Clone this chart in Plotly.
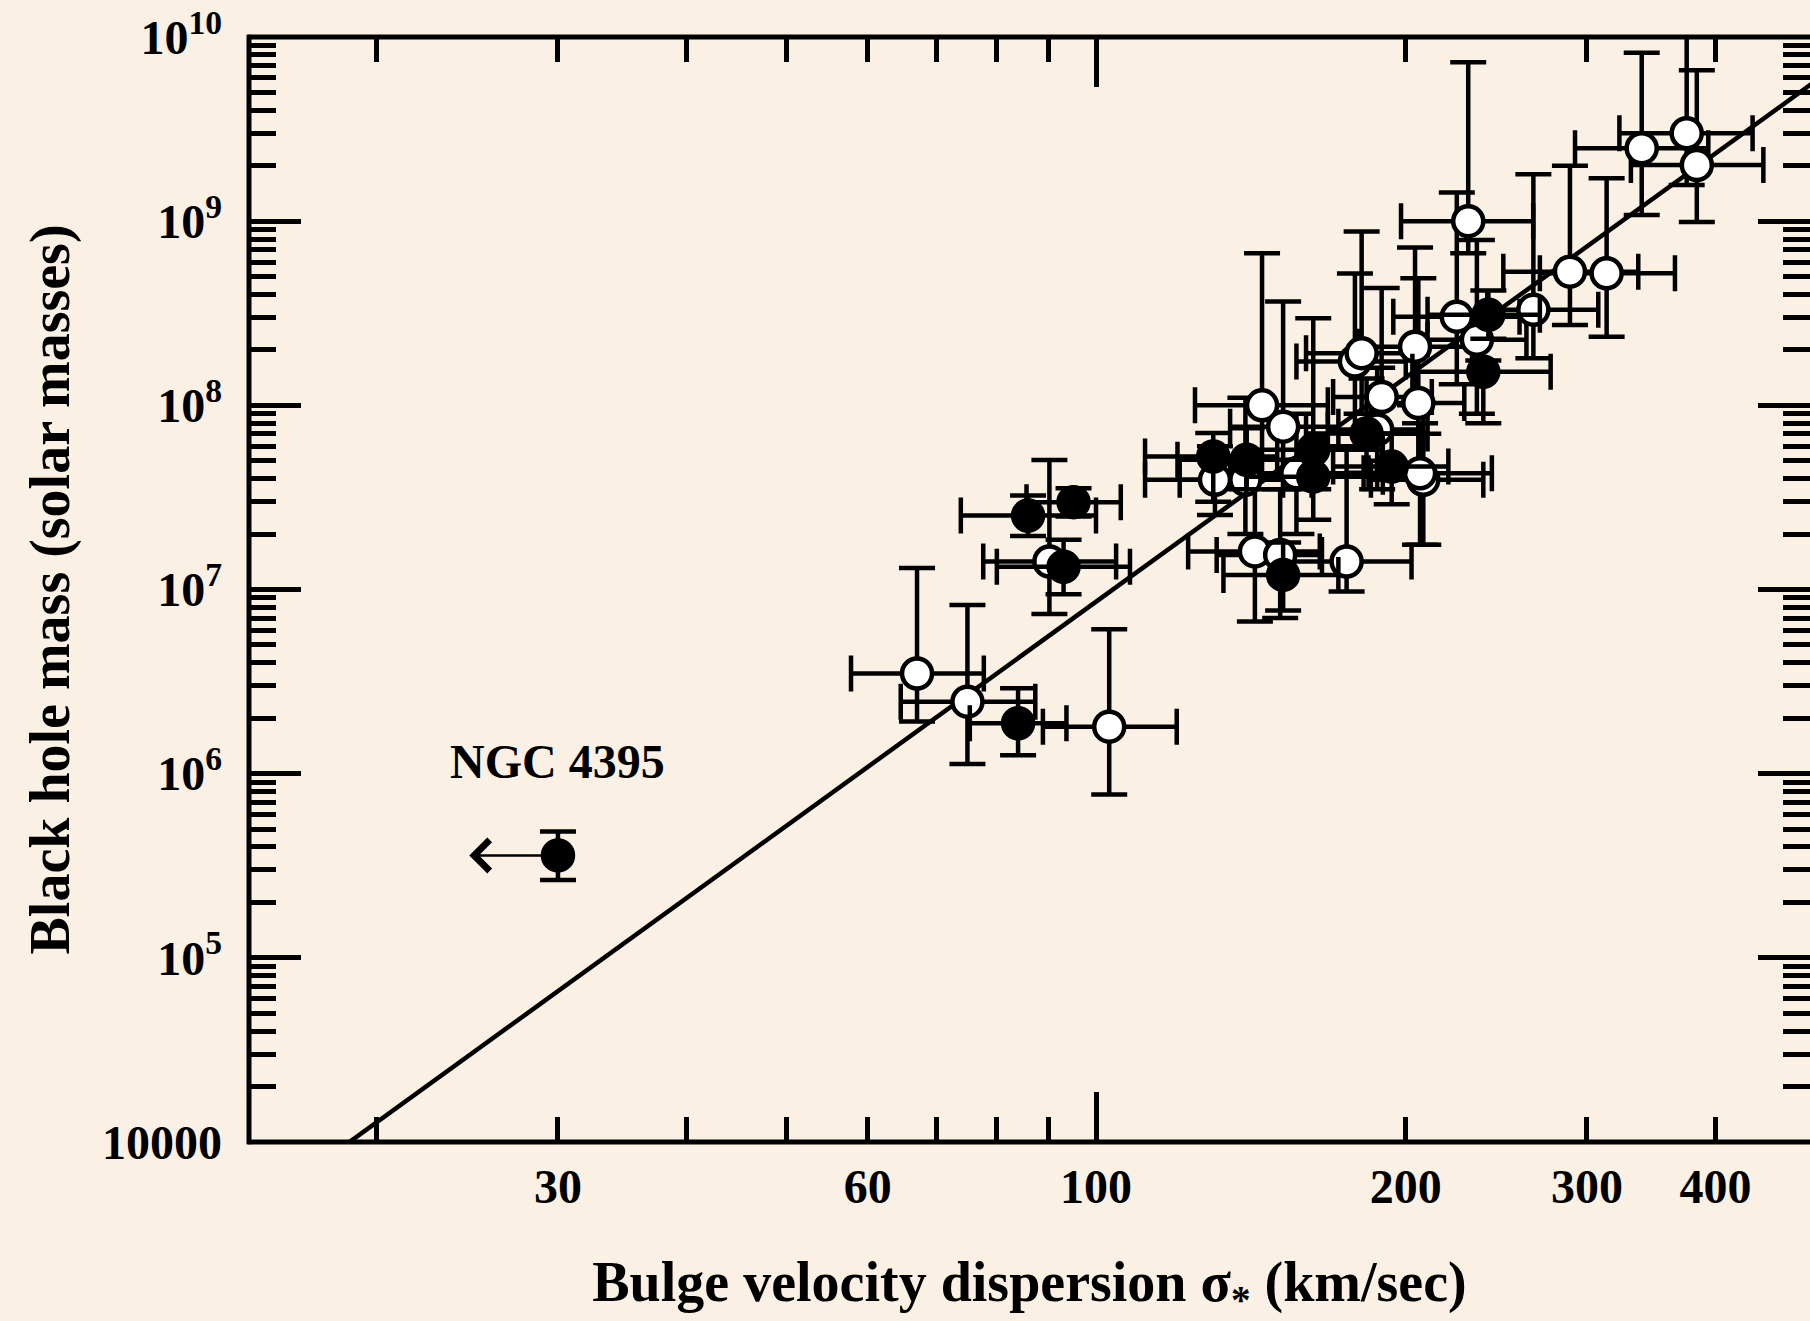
import plotly.graph_objects as go
import math

FONT = "Liberation Serif"
BG = "#FBF0E4"

# ---------------- data ----------------
# Open circles: velocity dispersion, black-hole mass and error-bar ends
open_sigma    = [67.0, 75.0, 103.0, 90.1, 145.0, 152.0, 178.5, 181.2, 204.2, 224.2,
                 234.5, 266.1, 288.8, 313.5, 339.1, 375.0, 383.6, 230.0, 189.5, 205.7,
                 187.6, 130.5, 139.7, 156.6, 208.0, 206.5, 142.7, 151.0, 175.2]
open_mass     = [3.5e6, 2.46e6, 1.80e6, 1.42e7, 1.0e8, 7.66e7, 1.73e8, 1.92e8, 2.08e8, 3.03e8,
                 2.27e8, 3.3e8, 5.32e8, 5.21e8, 2.49e9, 3.0e9, 2.02e9, 1.0e9, 1.11e8, 1.03e8,
                 7.4e7, 3.94e7, 3.94e7, 4.28e7, 3.94e7, 4.28e7, 1.61e7, 1.54e7, 1.42e7]
open_sigma_lo = [57.8, 64.6, 88.8, 77.7, 124.8, 135.0, 156.6, 160.0, 180.0, 194.5,
                 210.0, 240.0, 248.8, 270.0, 292.1, 322.6, 331.0, 197.9, 170.0, 185.0,
                 168.0, 111.6, 120.6, 135.0, 185.0, 184.0, 122.9, 131.0, 152.0]
open_sigma_hi = [77.8, 87.3, 119.8, 104.6, 168.0, 172.0, 200.0, 205.0, 232.0, 258.0,
                 262.0, 307.7, 336.5, 365.3, 393.6, 434.6, 445.2, 266.0, 212.0, 228.0,
                 208.0, 152.0, 162.0, 182.0, 237.9, 242.5, 165.0, 165.8, 202.6]
open_mass_lo  = [1.92e6, 1.13e6, 7.7e5, 7.37e6, 4.0e7, 3.5e7, 7.0e7, 9.0e7, 1.0e8, 1.3e8,
                 9.0e7, 1.8e8, 2.73e8, 2.36e8, 1.08e9, 1.57e9, 9.9e8, 6.7e8, 5.0e7, 4.5e7,
                 3.5e7, 2.54e7, 2.0e7, 2.0e7, 1.75e7, 1.75e7, 6.7e6, 7.0e6, 9.75e6]
open_mass_hi  = [1.31e7, 8.25e6, 6.09e6, 5.05e7, 6.7e8, 3.66e8, 5.2e8, 8.8e8, 7.2e8, 1.43e9,
                 7.9e8, 1.8e9, 2.0e9, 1.71e9, 8.2e9, 1.2e10, 6.6e9, 7.3e9, 4.33e8, 4.9e8,
                 1.6e8, 6.0e7, 1.1e8, 9.0e7, 7.0e7, 8.0e7, 4.0e7, 3.5e7, 6.0e7]

# Filled circles
fill_sigma    = [84.0, 85.9, 95.1, 93.0, 130.0, 140.1, 162.6, 162.6, 183.2, 193.8,
                 240.6, 237.9, 152.0]
fill_mass     = [1.88e6, 2.52e7, 2.98e7, 1.33e7, 5.27e7, 5.06e7, 5.73e7, 4.1e7, 7.04e7, 4.65e7,
                 3.1e8, 1.52e8, 1.2e7]
fill_sigma_lo = [75.4, 73.9, 85.6, 80.1, 111.6, 120.0, 140.0, 140.0, 160.0, 170.0,
                 210.0, 203.0, 133.0]
fill_sigma_hi = [93.6, 100.0, 105.7, 107.9, 150.0, 165.0, 190.0, 190.0, 210.0, 220.0,
                 270.0, 276.6, 172.0]
fill_mass_lo  = [1.26e6, 1.95e7, 2.49e7, 9.43e6, 3.0e7, 3.5e7, 3.5e7, 2.39e7, 4.3e7, 2.9e7,
                 2.3e8, 8.0e7, 7.7e6]
fill_mass_hi  = [2.91e6, 3.24e7, 3.55e7, 1.86e7, 7.07e7, 7.5e7, 2.97e8, 6.0e7, 1.4e8, 7.0e7,
                 4.2e8, 1.75e8, 1.8e7]

# NGC 4395 (upper limit on sigma)
ngc_name = "NGC 4395"
ngc_sigma = [30.0]
ngc_mass = [3.6e5]
ngc_mass_lo = [2.65e5]
ngc_mass_hi = [4.85e5]
ngc_arrow_tip_sigma = 24.6
ngc_label_mass = 1.16e6

# M-sigma relation (end points of the fitted line)
line_sigma = [15.0, 500.0]
line_mass = [4.0e3, 5.75e9]

# Axis ticks
x_tick_vals = [30, 60, 100, 200, 300, 400]
x_tick_text = ["30", "60", "100", "200", "300", "400"]
x_minor_vals = [20, 40, 50, 70, 80, 90]
x_long_tick = [100]
y_tick_vals = [1e4, 1e5, 1e6, 1e7, 1e8, 1e9, 1e10]
y_tick_text = ["10000", "10<sup>5</sup>", "10<sup>6</sup>", "10<sup>7</sup>",
               "10<sup>8</sup>", "10<sup>9</sup>", "10<sup>10</sup>"]
y_minor_vals = [m * 10 ** e for e in range(4, 10) for m in range(2, 10)]

x_title = "Bulge velocity dispersion σ<sub>*</sub> (km/sec)"
y_title = "Black hole mass (solar masses)"

X_RANGE = [1.17687, 2.69388]
Y_RANGE = [4, 10]


def diffs(v, lo, hi):
    plus = [h - c for c, h in zip(v, hi)]
    minus = [c - l for c, l in zip(v, lo)]
    return plus, minus


o_xp, o_xm = diffs(open_sigma, open_sigma_lo, open_sigma_hi)
o_yp, o_ym = diffs(open_mass, open_mass_lo, open_mass_hi)
f_xp, f_xm = diffs(fill_sigma, fill_sigma_lo, fill_sigma_hi)
f_yp, f_ym = diffs(fill_mass, fill_mass_lo, fill_mass_hi)
n_yp, n_ym = diffs(ngc_mass, ngc_mass_lo, ngc_mass_hi)

EB = dict(type="data", symmetric=False, color="black", thickness=4.5, width=18)
MSIZE = 30
MLINE = 4.5

fig = go.Figure()

fig.add_trace(go.Scatter(x=line_sigma, y=line_mass, mode="lines",
                         line=dict(color="black", width=4.5),
                         hoverinfo="skip", showlegend=False))

fig.add_trace(go.Scatter(
    x=open_sigma, y=open_mass, mode="markers", showlegend=False,
    marker=dict(symbol="circle", size=MSIZE, color="white", line=dict(color="black", width=MLINE)),
    error_x=dict(EB, array=o_xp, arrayminus=o_xm),
    error_y=dict(EB, array=o_yp, arrayminus=o_ym)))

fig.add_trace(go.Scatter(
    x=fill_sigma, y=fill_mass, mode="markers", showlegend=False,
    marker=dict(symbol="circle", size=MSIZE, color="black", line=dict(color="black", width=MLINE)),
    error_x=dict(EB, array=f_xp, arrayminus=f_xm),
    error_y=dict(EB, array=f_yp, arrayminus=f_ym)))

fig.add_trace(go.Scatter(
    x=ngc_sigma, y=ngc_mass, mode="markers", showlegend=False,
    marker=dict(symbol="circle", size=MSIZE, color="black", line=dict(color="black", width=MLINE)),
    error_y=dict(EB, array=n_yp, arrayminus=n_ym)))

# invisible trace that carries the overlay axis used for the long tick at 100
fig.add_trace(go.Scatter(x=line_sigma, y=line_mass, xaxis="x2", mode="markers",
                         marker=dict(opacity=0), hoverinfo="skip", showlegend=False))

tickfont = dict(family=FONT, size=48, color="black", weight="bold")
titlefont = dict(family=FONT, size=56, color="black", weight="bold")
TW = 4.5

fig.update_layout(
    width=1810, height=1321,
    margin=dict(l=249, r=0, t=37, b=179),
    paper_bgcolor=BG, plot_bgcolor=BG,
    showlegend=False,
    xaxis=dict(type="log", range=X_RANGE, showline=False, showgrid=False, zeroline=False,
               ticks="inside", ticklen=25, tickwidth=TW, tickcolor="black", mirror="ticks",
               tickmode="array", tickvals=x_tick_vals, ticktext=x_tick_text,
               tickfont=tickfont, ticklabelstandoff=12,
               minor=dict(tickmode="array", tickvals=x_minor_vals, ticks="inside", ticklen=25,
                          tickwidth=TW, tickcolor="black", showgrid=False),
               title=dict(text=x_title, font=titlefont, standoff=54)),
    xaxis2=dict(type="log", range=X_RANGE, overlaying="x", anchor="y", side="bottom",
                showline=False, showgrid=False, zeroline=False,
                ticks="inside", ticklen=50, tickwidth=TW, tickcolor="black", mirror="ticks",
                tickmode="array", tickvals=x_long_tick, showticklabels=False),
    yaxis=dict(type="log", range=Y_RANGE, showline=False, showgrid=False, zeroline=False,
               ticks="inside", ticklen=52, tickwidth=TW, tickcolor="black", mirror="ticks",
               tickmode="array", tickvals=y_tick_vals, ticktext=y_tick_text,
               tickfont=tickfont, ticklabelstandoff=26,
               minor=dict(tickmode="array", tickvals=y_minor_vals, ticks="inside", ticklen=27,
                          tickwidth=TW, tickcolor="black", showgrid=False),
               title=dict(text=y_title, font=titlefont, standoff=14)),
)

# axis frame (left, bottom, top)
for x0, y0, x1, y1 in [(0, -0.002, 0, 1.002), (-0.001, 0, 1, 0), (-0.001, 1, 1, 1)]:
    fig.add_shape(type="line", xref="paper", yref="paper", x0=x0, y0=y0, x1=x1, y1=y1,
                  line=dict(color="black", width=5))

# NGC 4395 upper-limit arrow and label
fig.add_annotation(x=math.log10(ngc_arrow_tip_sigma), y=math.log10(ngc_mass[0]),
                   ax=math.log10(ngc_sigma[0]), ay=math.log10(ngc_mass[0]),
                   xref="x", yref="y", axref="x", ayref="y", text="",
                   showarrow=True, arrowhead=4, arrowsize=2.4, arrowwidth=2.5, arrowcolor="black")
fig.add_annotation(x=math.log10(ngc_sigma[0]), y=math.log10(ngc_label_mass), xref="x", yref="y",
                   text=ngc_name, showarrow=False,
                   font=dict(family=FONT, size=48, color="black", weight="bold"))

fig.write_html("out.html")
